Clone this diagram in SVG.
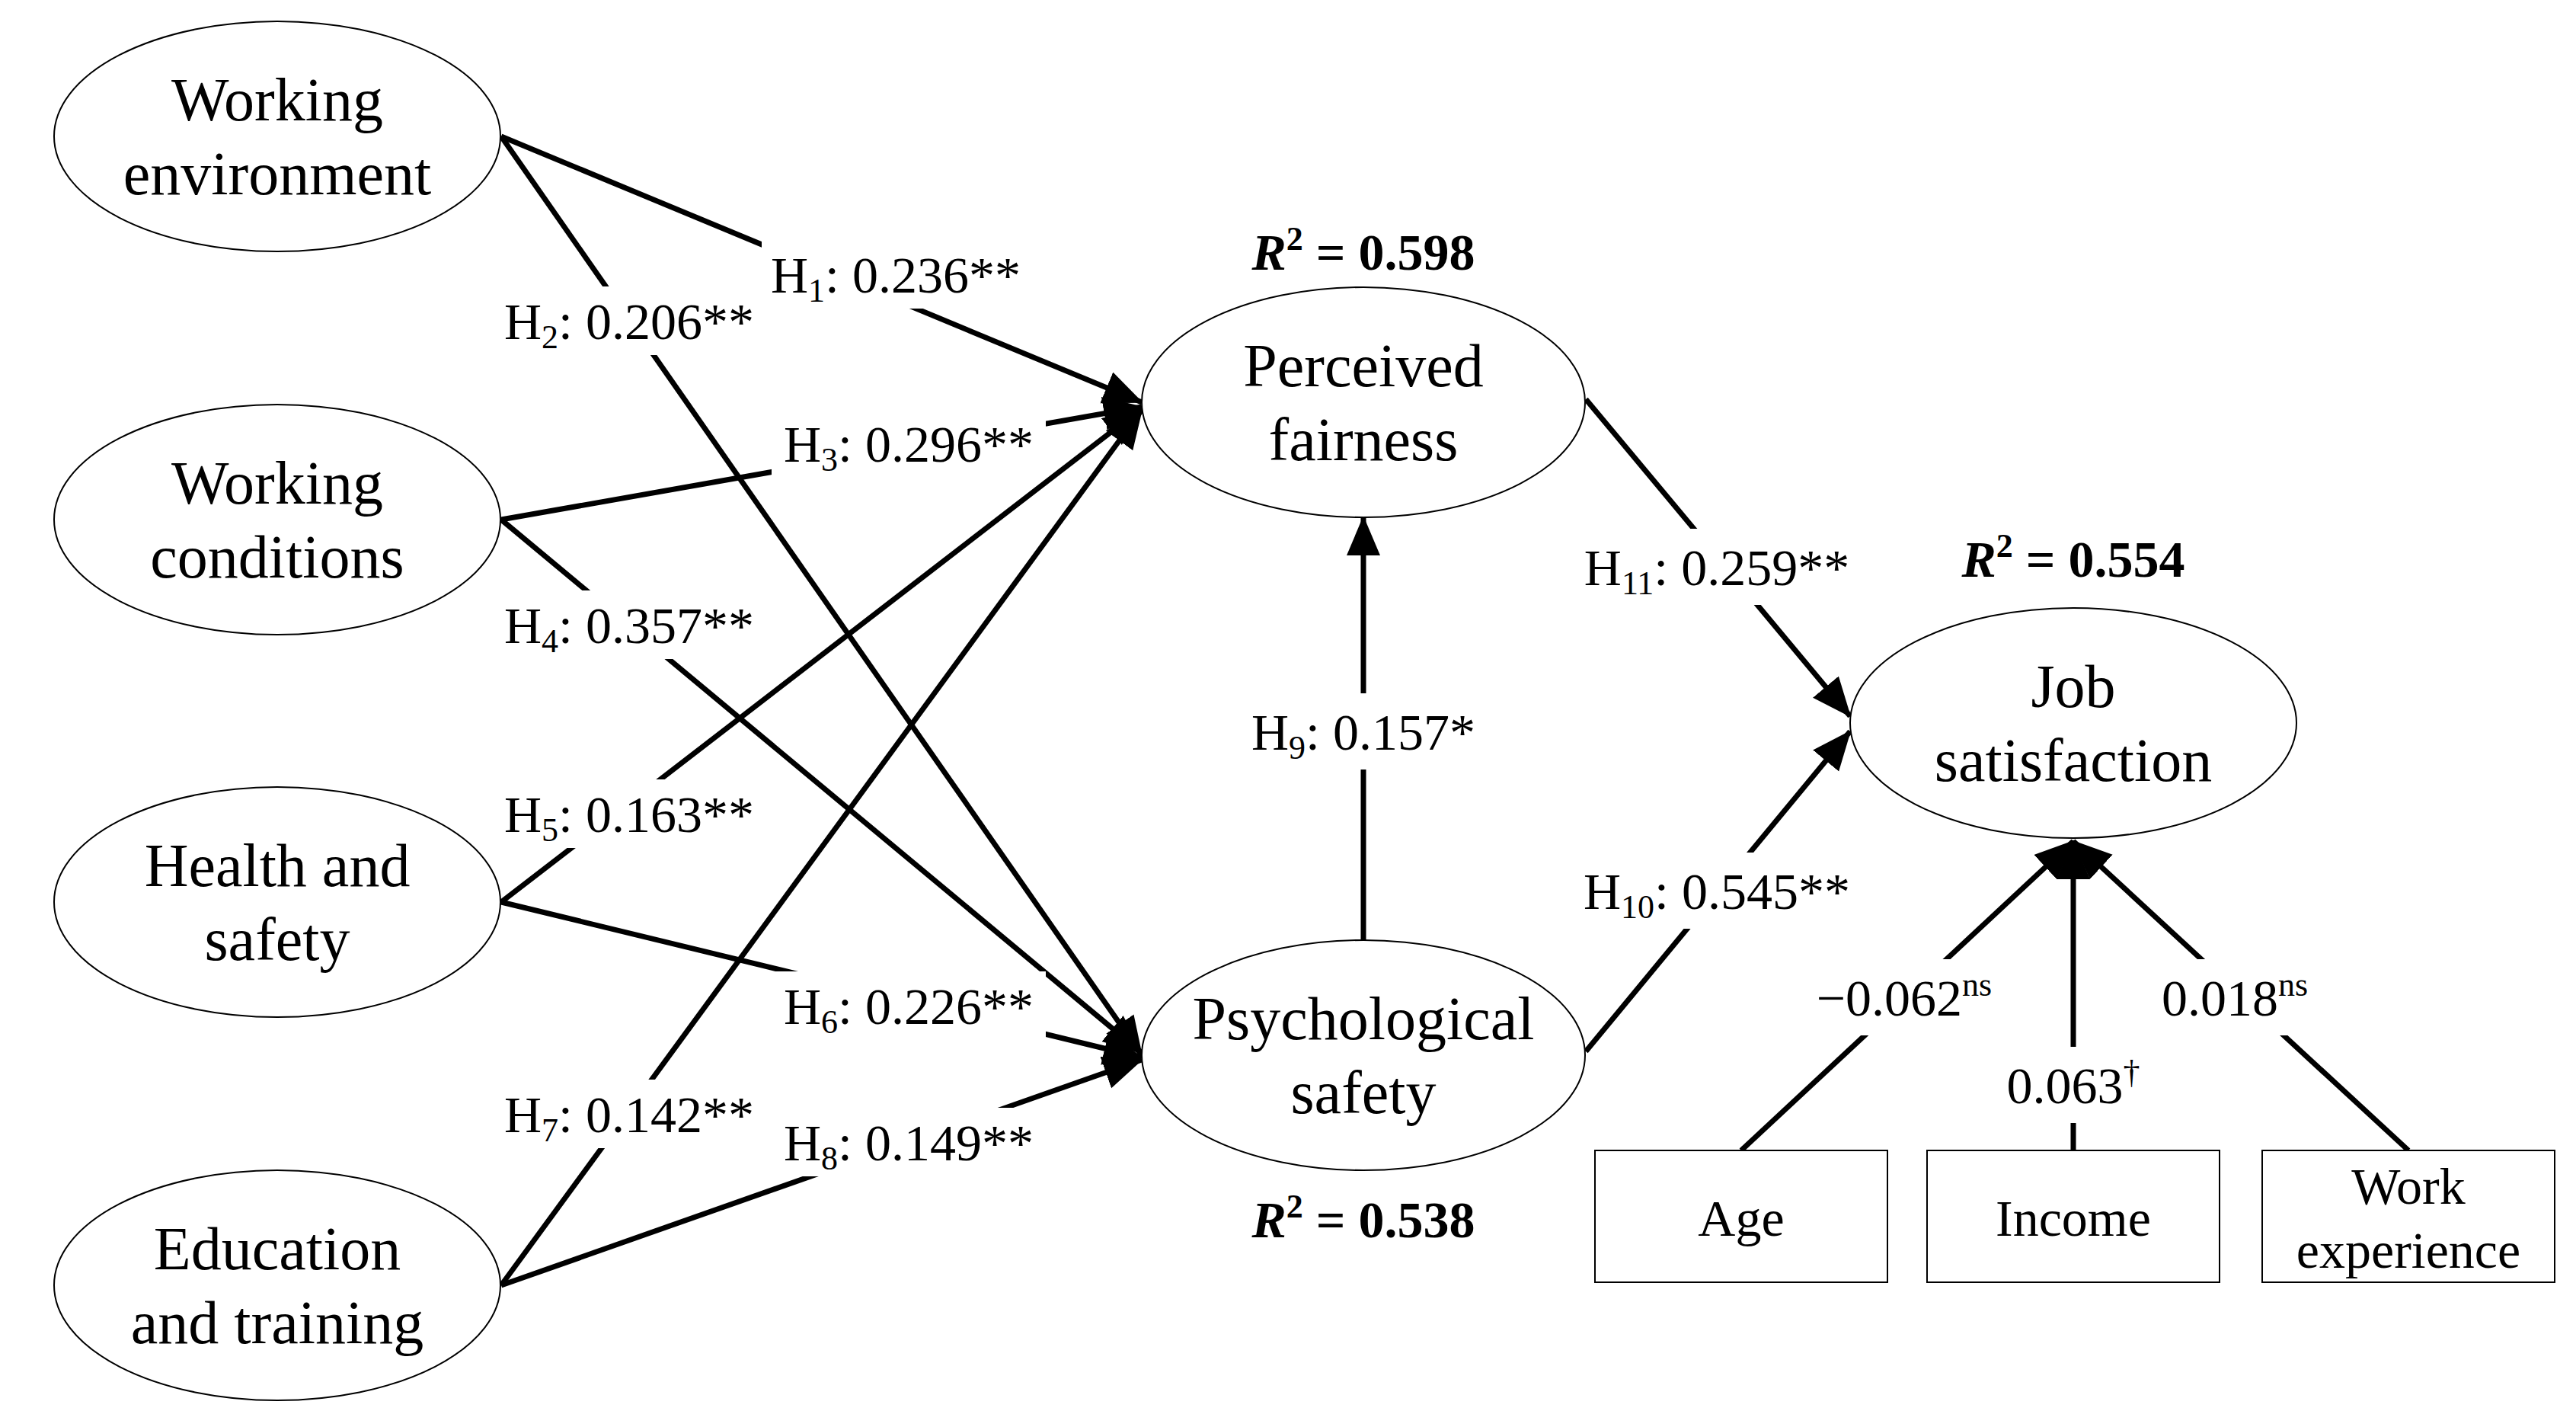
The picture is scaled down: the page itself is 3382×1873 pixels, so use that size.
<svg xmlns="http://www.w3.org/2000/svg" width="3382" height="1873" viewBox="0 0 3382 1873">
<style>
text{font-family:"Liberation Serif","Times New Roman",serif;fill:#000;text-anchor:middle}
.n{font-size:80px}
.l{font-size:68px}
.r{font-size:68px;font-weight:bold}
.s{font-size:44px}
ellipse,rect.b{fill:#fff;stroke:#000;stroke-width:2}
.c line{stroke:#000;stroke-width:7}
.c line.a{marker-end:url(#ah)}
rect.w{fill:#fff}
</style>
<defs>
<marker id="ah" markerUnits="userSpaceOnUse" markerWidth="60" markerHeight="50" refX="50" refY="22" orient="auto"><path d="M0,0 L52,22 L0,44 z" fill="#000"/></marker>
</defs>
<rect width="3382" height="1873" fill="#fff"/>
<g class="c" id="connectors">
<line class="a" x1="658" y1="179" x2="1499" y2="528"/>
<line class="a" x1="658" y1="179" x2="1499" y2="1385"/>
<line class="a" x1="658" y1="682" x2="1499" y2="534"/>
<line class="a" x1="658" y1="682" x2="1499" y2="1382"/>
<line class="a" x1="658" y1="1184" x2="1499" y2="536"/>
<line class="a" x1="658" y1="1184" x2="1499" y2="1388"/>
<line class="a" x1="658" y1="1687" x2="1499" y2="538"/>
<line class="a" x1="658" y1="1687" x2="1499" y2="1391"/>
<line class="a" x1="1790" y1="1234" x2="1790" y2="679"/>
<line class="a" x1="2082" y1="524" x2="2429" y2="940"/>
<line class="a" x1="2082" y1="1380" x2="2429" y2="960"/>
<line class="a" x1="2286" y1="1510" x2="2722" y2="1104"/>
<line class="a" x1="2722" y1="1510" x2="2722" y2="1104"/>
<line class="a" x1="3162" y1="1510" x2="2722" y2="1104"/>
</g>
<g id="labels">
<rect class="w" x="1000" y="315" width="360" height="90"/>
<text class="l" x="1176" y="384">H<tspan class="s" dy="12">1</tspan><tspan dy="-12">: 0.236**</tspan></text>
<rect class="w" x="650" y="376" width="360" height="90"/>
<text class="l" x="826" y="445">H<tspan class="s" dy="12">2</tspan><tspan dy="-12">: 0.206**</tspan></text>
<rect class="w" x="1013" y="537" width="360" height="90"/>
<text class="l" x="1193" y="606">H<tspan class="s" dy="12">3</tspan><tspan dy="-12">: 0.296**</tspan></text>
<rect class="w" x="650" y="775" width="360" height="90"/>
<text class="l" x="826" y="844">H<tspan class="s" dy="12">4</tspan><tspan dy="-12">: 0.357**</tspan></text>
<rect class="w" x="650" y="1023" width="360" height="90"/>
<text class="l" x="826" y="1092">H<tspan class="s" dy="12">5</tspan><tspan dy="-12">: 0.163**</tspan></text>
<rect class="w" x="1013" y="1275" width="360" height="90"/>
<text class="l" x="1193" y="1344">H<tspan class="s" dy="12">6</tspan><tspan dy="-12">: 0.226**</tspan></text>
<rect class="w" x="650" y="1417" width="360" height="90"/>
<text class="l" x="826" y="1486">H<tspan class="s" dy="12">7</tspan><tspan dy="-12">: 0.142**</tspan></text>
<rect class="w" x="1013" y="1454" width="360" height="90"/>
<text class="l" x="1193" y="1523">H<tspan class="s" dy="12">8</tspan><tspan dy="-12">: 0.149**</tspan></text>
<rect class="w" x="1630" y="910" width="320" height="100"/>
<text class="l" x="1790" y="984">H<tspan class="s" dy="12">9</tspan><tspan dy="-12">: 0.157*</tspan></text>
<rect class="w" x="2060" y="694" width="390" height="100"/>
<text class="l" x="2254" y="768">H<tspan class="s" dy="12">11</tspan><tspan dy="-12">: 0.259**</tspan></text>
<rect class="w" x="2060" y="1119" width="390" height="100"/>
<text class="l" x="2254" y="1193">H<tspan class="s" dy="12">10</tspan><tspan dy="-12">: 0.545**</tspan></text>
<rect class="w" x="2370" y="1259" width="260" height="100"/>
<text class="l" x="2500" y="1333">−0.062<tspan class="s" dy="-26">ns</tspan></text>
<rect class="w" x="2630" y="1374" width="180" height="100"/>
<text class="l" x="2722" y="1448">0.063<tspan class="s" dy="-26">†</tspan></text>
<rect class="w" x="2820" y="1259" width="230" height="100"/>
<text class="l" x="2934" y="1333">0.018<tspan class="s" dy="-26">ns</tspan></text>
<text class="r" x="1790" y="354"><tspan font-style="italic">R</tspan><tspan class="s" dy="-26">2</tspan><tspan dy="26"> = 0.598</tspan></text>
<text class="r" x="1790" y="1624"><tspan font-style="italic">R</tspan><tspan class="s" dy="-26">2</tspan><tspan dy="26"> = 0.538</tspan></text>
<text class="r" x="2722" y="757"><tspan font-style="italic">R</tspan><tspan class="s" dy="-26">2</tspan><tspan dy="26"> = 0.554</tspan></text>
</g>
<g id="working-environment"><ellipse cx="364" cy="179" rx="293" ry="151"/><text class="n" x="364" y="158">Working</text><text class="n" x="364" y="255">environment</text></g>
<g id="working-conditions"><ellipse cx="364" cy="682" rx="293" ry="151"/><text class="n" x="364" y="661">Working</text><text class="n" x="364" y="758">conditions</text></g>
<g id="health-safety"><ellipse cx="364" cy="1184" rx="293" ry="151"/><text class="n" x="364" y="1163">Health and</text><text class="n" x="364" y="1260">safety</text></g>
<g id="education-training"><ellipse cx="364" cy="1687" rx="293" ry="151"/><text class="n" x="364" y="1666">Education</text><text class="n" x="364" y="1763">and training</text></g>
<g id="perceived-fairness"><ellipse cx="1790" cy="528" rx="291" ry="151"/><text class="n" x="1790" y="507">Perceived</text><text class="n" x="1790" y="604">fairness</text></g>
<g id="psychological-safety"><ellipse cx="1790" cy="1385" rx="291" ry="151"/><text class="n" x="1790" y="1364">Psychological</text><text class="n" x="1790" y="1461">safety</text></g>
<g id="job-satisfaction"><ellipse cx="2722" cy="949" rx="293" ry="151"/><text class="n" x="2722" y="928">Job</text><text class="n" x="2722" y="1025">satisfaction</text></g>
<g id="age"><rect class="b" x="2094" y="1510" width="384" height="173"/><text class="l" x="2286" y="1622">Age</text></g>
<g id="income"><rect class="b" x="2530" y="1510" width="384" height="173"/><text class="l" x="2722" y="1622">Income</text></g>
<g id="work-experience"><rect class="b" x="2970" y="1510" width="384" height="173"/><text class="l" x="3162" y="1580">Work</text><text class="l" x="3162" y="1664">experience</text></g>
</svg>
